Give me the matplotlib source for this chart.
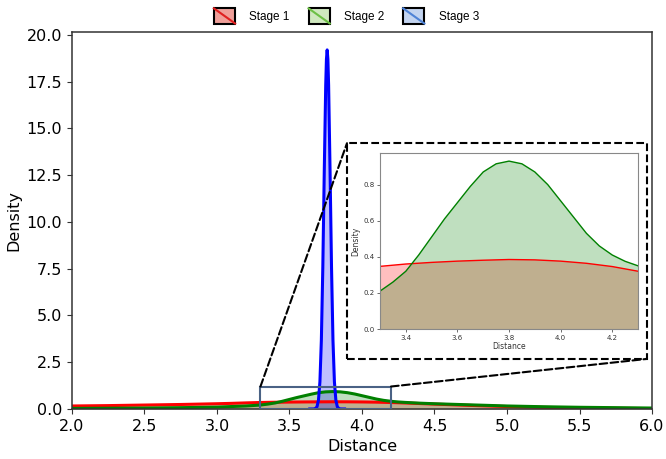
import matplotlib.pyplot as plt
import numpy as np
from matplotlib.legend_handler import HandlerBase
from matplotlib.patches import Rectangle, ConnectionPatch
from matplotlib.lines import Line2D

# Stage 1 (red) density curve
x_s1 = [2.0, 2.25, 2.5, 2.75, 3.0, 3.1, 3.2, 3.3, 3.4, 3.5, 3.6, 3.7, 3.8, 3.9,
        4.0, 4.1, 4.2, 4.3, 4.4, 4.5, 4.75, 5.0, 5.25, 5.5, 5.75, 6.0]
y_s1 = [0.16, 0.18, 0.21, 0.24, 0.28, 0.30, 0.325, 0.347, 0.36, 0.369, 0.376, 0.381, 0.385, 0.383,
        0.376, 0.364, 0.346, 0.32, 0.29, 0.26, 0.19, 0.13, 0.085, 0.055, 0.035, 0.02]

# Stage 2 (green)
x_s2 = [2.0, 2.25, 2.5, 2.75, 3.0, 3.1, 3.2, 3.25, 3.3, 3.35, 3.4, 3.45, 3.5, 3.55, 3.6,
        3.65, 3.7, 3.75, 3.8, 3.85, 3.9, 3.95, 4.0, 4.05, 4.1, 4.15, 4.2, 4.25, 4.3,
        4.4, 4.5, 4.75, 5.0, 5.25, 5.5, 5.75, 6.0]
y_s2 = [0.03, 0.04, 0.05, 0.07, 0.10, 0.13, 0.16, 0.185, 0.21, 0.26, 0.32, 0.41, 0.51, 0.61, 0.70,
        0.79, 0.87, 0.915, 0.93, 0.915, 0.87, 0.80, 0.71, 0.62, 0.53, 0.46, 0.41, 0.375, 0.35,
        0.31, 0.28, 0.22, 0.16, 0.12, 0.09, 0.07, 0.05]

# Stage 3 (blue), very narrow peak
x_s3 = [3.64, 3.66, 3.67, 3.68, 3.69, 3.70, 3.71, 3.72, 3.73, 3.74, 3.75, 3.755, 3.76,
        3.765, 3.77, 3.78, 3.79, 3.80, 3.81, 3.82, 3.83, 3.84, 3.85, 3.86, 3.88]
y_s3 = [0.0, 0.0, 0.004, 0.026, 0.12, 0.47, 1.45, 3.68, 7.58, 12.7, 17.3, 18.7, 19.2,
        18.7, 17.3, 12.7, 7.58, 3.68, 1.45, 0.47, 0.12, 0.026, 0.004, 0.0, 0.0]

labels = ['Stage 1', 'Stage 2', 'Stage 3']
line_colors = ['red', 'green', 'blue']
leg_fill = ['#ef9f99', '#cfe8bf', '#c3d4f0']
leg_line = ['#e02020', '#6cbf45', '#4f83d6']


class HandlerSlash(HandlerBase):
    def __init__(self, fc, lc):
        super().__init__()
        self.fc = fc
        self.lc = lc

    def create_artists(self, legend, orig_handle, xdescent, ydescent, width, height, fontsize, trans):
        r = Rectangle((-xdescent, -ydescent), width, height, facecolor=self.fc,
                      edgecolor='black', lw=1.5, transform=trans)
        ln = Line2D([-xdescent, -xdescent + width], [-ydescent + height, -ydescent],
                    color=self.lc, lw=1.5, transform=trans)
        return [r, ln]


fig = plt.figure(figsize=(6.66, 4.59), dpi=100)
ax = fig.add_axes([0.108, 0.109, 0.871, 0.821])

for xs, ys, c in zip([x_s1, x_s2, x_s3], [y_s1, y_s2, y_s3], line_colors):
    ax.fill_between(xs, ys, color=c, alpha=0.25, lw=0)
    ax.plot(xs, ys, color=c, lw=2.2)

ax.set_xlim(2, 6)
ax.set_ylim(0, 20.15)
ax.set_xticks(np.arange(2, 6.01, 0.5))
ax.set_yticks(np.arange(0, 20.01, 2.5))
ax.xaxis.set_major_formatter(plt.FormatStrFormatter('%.1f'))
ax.yaxis.set_major_formatter(plt.FormatStrFormatter('%.1f'))
ax.tick_params(labelsize=11.5, color='#333333')
ax.set_xlabel('Distance', fontsize=11.5)
ax.set_ylabel('Density', fontsize=11.5)
for s in ax.spines.values():
    s.set_color('#333333')
    s.set_linewidth(1.1)

# zoom rectangle on the main axes
ax.add_patch(Rectangle((3.3, 0), 0.9, 1.2, fill=False, edgecolor='#4a6285', lw=1.5, zorder=5))

# inset
axin = fig.add_axes([0.5706, 0.2832, 0.3874, 0.3835])
for xs, ys, c in zip([x_s1, x_s2], [y_s1, y_s2], line_colors[:2]):
    axin.fill_between(xs, ys, color=c, alpha=0.25, lw=0)
    axin.plot(xs, ys, color=c, lw=1)
axin.set_xlim(3.3, 4.3)
axin.set_ylim(0, 0.975)
axin.set_xticks([3.4, 3.6, 3.8, 4.0, 4.2])
axin.set_yticks([0.0, 0.2, 0.4, 0.6, 0.8])
axin.tick_params(labelsize=5, length=2, width=0.6, pad=2, color='#555555', labelcolor='#333333')
axin.set_xlabel('Distance', fontsize=5.5, labelpad=1, color='#333333')
axin.set_ylabel('Density', fontsize=5.5, labelpad=2, color='#333333')
for s in axin.spines.values():
    s.set_color('#888888')
    s.set_linewidth(0.8)

# dashed frame around inset
bx0, by0, bw, bh = 0.521, 0.218, 0.450, 0.470
fig.add_artist(Rectangle((bx0, by0), bw, bh, transform=fig.transFigure, fill=False,
                         ls='--', lw=1.5, edgecolor='black'))
fig.add_artist(ConnectionPatch(xyA=(3.3, 1.2), coordsA=ax.transData,
                               xyB=(bx0, by0 + bh), coordsB=fig.transFigure,
                               ls='--', lw=1.5, color='black'))
fig.add_artist(ConnectionPatch(xyA=(4.2, 1.2), coordsA=ax.transData,
                               xyB=(bx0 + bw, by0), coordsB=fig.transFigure,
                               ls='--', lw=1.5, color='black'))

# legend
handles = [Rectangle((0, 0), 1, 1) for _ in labels]
hmap = {h: HandlerSlash(f, l) for h, f, l in zip(handles, leg_fill, leg_line)}
fig.legend(handles, labels, handler_map=hmap, loc='upper center', bbox_to_anchor=(0.52, 1.005),
           ncol=3, frameon=False, prop={'family': 'Liberation Sans', 'size': 8.5},
           handlelength=1.8, handleheight=1.6, handletextpad=1.2, columnspacing=1.6)

plt.savefig('out.png', dpi=100)
